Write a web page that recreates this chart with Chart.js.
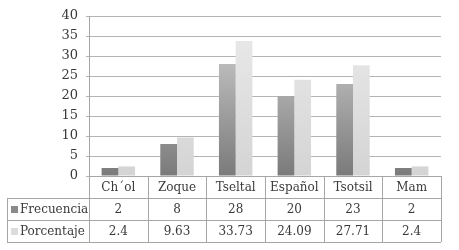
<!DOCTYPE html>
<html>
<head>
<meta charset="utf-8">
<script src="https://cdn.jsdelivr.net/npm/chart.js@4/dist/chart.umd.min.js"></script>
<style>
  html, body { margin: 0; padding: 0; background: #fff; }
  #wrap { width: 459px; height: 250px; position: relative; }
</style>
</head>
<body>
<div id="wrap"><canvas id="chart1"></canvas></div>
<script>
const categories = ["Ch´ol", "Zoque", "Tseltal", "Español", "Tsotsil", "Mam"];
const frecuencia = [2, 8, 28, 20, 23, 2];
const porcentaje = [2.4, 9.63, 33.73, 24.09, 27.71, 2.4];
const seriesNames = ["Frecuencia", "Porcentaje"];
const yTicks = [0, 5, 10, 15, 20, 25, 30, 35, 40];

const FONT = "DejaVu Serif";
const FONT_SIZE = 12;
const TEXT = "#3a3a3a";
const LINE = "#a6a6a6";

// vertical gradient across the plot area, dark at the bottom
function makeGradient(chart, bottomColor, topColor) {
    let area = chart.chartArea;
    if (!area) return bottomColor;
    let g = chart.ctx.createLinearGradient(0, area.bottom, 0, area.top);
    g.addColorStop(0, bottomColor);
    g.addColorStop(1, topColor);
    return g;
}

// data table under the x axis, drawn from the category scale
const dataTable = {
    id: 'dataTable',
    afterDraw(chart) {
        let ctx = chart.ctx;
        let x = chart.scales.x;
        let area = chart.chartArea;
        let colW = (area.right - area.left) / categories.length;
        let rowH = 22;
        let top = area.bottom;
        let left = 7;

        ctx.save();
        ctx.strokeStyle = LINE;
        ctx.lineWidth = 1;
        ctx.beginPath();
        // horizontal rules
        ctx.moveTo(area.left, top + 0.5); ctx.lineTo(area.right, top + 0.5);
        for (let r = 1; r <= 3; r++) {
            let y = Math.round(top + r * rowH) + 0.5;
            ctx.moveTo(left, y); ctx.lineTo(area.right, y);
        }
        // vertical rules
        ctx.moveTo(left + 0.5, top + rowH); ctx.lineTo(left + 0.5, top + 3 * rowH);
        for (let c = 0; c <= categories.length; c++) {
            let xx = Math.round(area.left + c * colW) + 0.5;
            ctx.moveTo(xx, top); ctx.lineTo(xx, top + 3 * rowH);
        }
        ctx.stroke();

        ctx.fillStyle = TEXT;
        ctx.font = FONT_SIZE + "px '" + FONT + "'";
        ctx.textAlign = "center";
        ctx.textBaseline = "middle";
        categories.forEach((cat, i) => {
            let cx = x.getPixelForValue(i);
            ctx.fillText(cat, cx, top + rowH * 0.5 + 1);
            ctx.fillText(String(frecuencia[i]), cx, top + rowH * 1.5 + 1);
            ctx.fillText(String(porcentaje[i]), cx, top + rowH * 2.5 + 1);
        });

        // legend keys and series names
        let keyColors = ["#8a8a8a", "#dcdcdc"];
        ctx.textAlign = "left";
        seriesNames.forEach((name, r) => {
            let cy = top + rowH * (r + 1.5);
            ctx.fillStyle = keyColors[r];
            ctx.fillRect(11, Math.round(cy) - 3, 7, 7);
            ctx.fillStyle = TEXT;
            ctx.fillText(name, 20, cy + 1);
        });
        ctx.restore();
    }
};

new Chart(document.getElementById('chart1').getContext('2d'), {
    type: 'bar',
    data: {
        labels: categories,
        datasets: [{
            label: seriesNames[0],
            data: frecuencia,
            backgroundColor: (c) => makeGradient(c.chart, "#7a7a7a", "#d6d6d6"),
            borderWidth: 0
        }, {
            label: seriesNames[1],
            data: porcentaje,
            backgroundColor: (c) => makeGradient(c.chart, "#d4d4d4", "#ebebeb"),
            borderWidth: 0
        }]
    },
    options: {
        responsive: true,
        maintainAspectRatio: false,
        animation: false,
        events: [],
        layout: { padding: { left: 0, right: 18, top: 16, bottom: 74 } },
        datasets: { bar: { categoryPercentage: 0.57, barPercentage: 1 } },
        plugins: { legend: { display: false }, tooltip: { enabled: false } },
        scales: {
            x: { display: false },
            y: {
                min: 0, max: 40,
                afterFit: (scale) => { scale.width = 89; },
                afterBuildTicks: (scale) => { scale.ticks = yTicks.map(v => ({ value: v })); },
                border: { color: LINE },
                grid: { color: "#b4b4b4", tickLength: 3 },
                ticks: { color: TEXT, padding: 8, font: { family: FONT, size: 13 } }
            }
        }
    },
    plugins: [dataTable]
});
</script>
</body>
</html>
